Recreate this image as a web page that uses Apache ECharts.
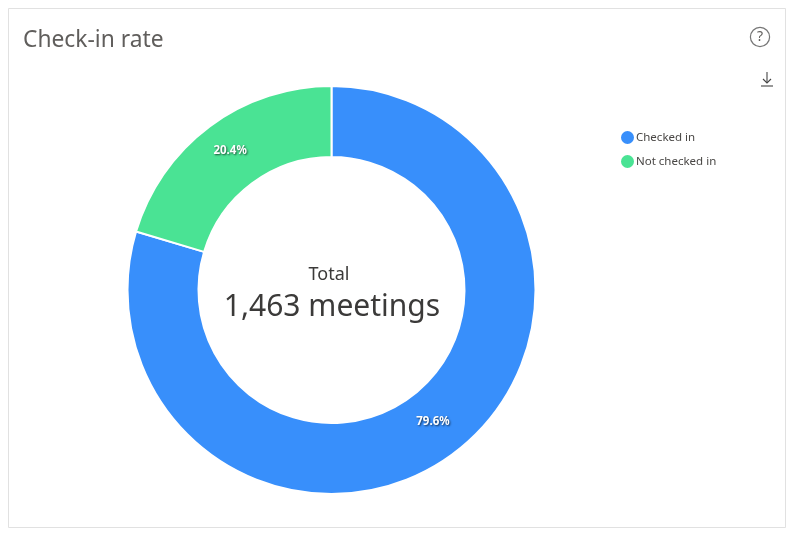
<!DOCTYPE html>
<html>
<head>
<meta charset="utf-8">
<title>Check-in rate</title>
<script src="https://cdn.jsdelivr.net/npm/echarts@6/dist/echarts.min.js"></script>
<style>
html, body { margin: 0; padding: 0; background: #fff; }
#graph { width: 795px; height: 535px; }
</style>
</head>
<body>
<div id="graph"></div>
<script>
"use strict"

const categories = ["Checked in", "Not checked in"];
const meetings = [1165, 298];
const percentLabels = ["79.6%", "20.4%"];
const colors = ["#388ffb", "#4ae394"];
const titleText = "Check-in rate";
const totalCaption = "Total";
const totalText = "1,463 meetings";

const fontName = "'Noto Sans', sans-serif";

const myChart = echarts.init(document.getElementById("graph"), null, { renderer: "canvas" });

const option = {
    animation: false,
    title: {
        text: titleText,
        left: 18, top: 24,
        textStyle: { color: "#605e5c", fontFamily: fontName, fontSize: 22.8, fontWeight: "normal" }
    },
    legend: {
        orient: "vertical",
        left: 614, top: 124,
        icon: "circle",
        itemWidth: 15, itemHeight: 15,
        itemGap: 7,
        textStyle: { color: "#484644", fontFamily: fontName, fontSize: 11.5, padding: [0, 0, 0, -4] },
        data: categories
    },
    series: [{
        type: "pie",
        center: [331.5, 290],
        radius: [133, 204],
        startAngle: 90,
        clockwise: true,
        avoidLabelOverlap: false,
        label: {
            show: true,
            position: "inside",
            color: "#fff",
            fontFamily: fontName,
            fontSize: 11.5,
            fontWeight: "bold",
            textShadowColor: "rgba(0,0,0,0.65)",
            textShadowBlur: 2,
            textShadowOffsetX: 1,
            textShadowOffsetY: 1,
            formatter: p => percentLabels[p.dataIndex]
        },
        labelLine: { show: false },
        itemStyle: { borderColor: "#fff", borderWidth: 2 },
        data: categories.map((name, i) => ({
            name,
            value: meetings[i],
            itemStyle: { color: colors[i] },
            label: { offset: i == 0 ? [-1, -6] : [1, -2] }
        }))
    }],
    graphic: [
        // card border
        { type: "rect", z: -1, shape: { x: 8.5, y: 8.5, width: 777, height: 519 }, style: { fill: "#fff", stroke: "#e1e1e1", lineWidth: 1 } },
        // centre text
        { type: "text", x: 329, y: 275, style: { text: totalCaption, align: "center", verticalAlign: "middle", fill: "#3b3a39", font: `18px ${fontName}` } },
        { type: "text", x: 332, y: 307, style: { text: totalText, align: "center", verticalAlign: "middle", fill: "#3b3a39", font: `30px ${fontName}` } },
        // help icon
        { type: "circle", shape: { cx: 760, cy: 37, r: 9.6 }, style: { fill: "none", stroke: "#767676", lineWidth: 1.2 } },
        { type: "text", x: 760, y: 37, style: { text: "?", align: "center", verticalAlign: "middle", fill: "#605e5c", font: `14px ${fontName}` } },
        // download icon
        { type: "polyline", shape: { points: [[767, 72], [767, 83]] }, style: { stroke: "#444", lineWidth: 1.1, fill: "none" } },
        { type: "polyline", shape: { points: [[763, 79], [767, 83], [771, 79]] }, style: { stroke: "#444", lineWidth: 1.1, fill: "none" } },
        { type: "polyline", shape: { points: [[761, 86], [773, 86]] }, style: { stroke: "#444", lineWidth: 1.1, fill: "none" } }
    ]
};

myChart.setOption(option);
</script>
</body>
</html>
